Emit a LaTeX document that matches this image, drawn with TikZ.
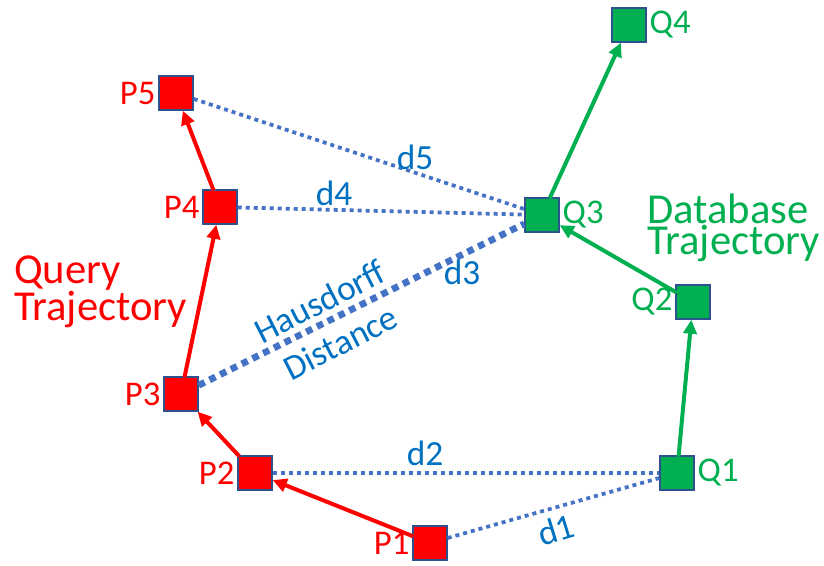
\documentclass[tikz,border=0pt]{standalone}
\usepackage{fontspec}
\setmainfont{Carlito}
\usetikzlibrary{arrows.meta,positioning}
\definecolor{qryred}{HTML}{FF0000}
\definecolor{dbgreen}{HTML}{00B050}
\definecolor{ptedge}{HTML}{2F528F}
\definecolor{distblue}{HTML}{4472C4}
\definecolor{labblue}{HTML}{0070C0}

\begin{document}
\begin{tikzpicture}[x=0.75pt, y=-0.75pt,
  font=\fontsize{26}{30}\selectfont,
  pt/.style={draw=ptedge, line width=1.1pt, minimum size=25.5pt, inner sep=0pt},
  qpt/.style={pt, fill=qryred},
  dpt/.style={pt, fill=dbgreen},
  qlab/.style={text=qryred, inner sep=2pt},
  dlab/.style={text=dbgreen, inner sep=2pt},
  qarr/.style={-{Triangle[length=10.5pt, width=10pt]}, line width=3pt, draw=qryred, shorten <=-1pt},
  darr/.style={qarr, draw=dbgreen},
  dist/.style={draw=distblue, line width=2.8pt, dash pattern=on 3pt off 3pt},
  hd/.style={dist, line width=5pt, dash pattern=on 5pt off 4pt},
  lab/.style={text=labblue, inner sep=1pt, font=\fontsize{26.5}{30}\selectfont},
  title/.style={font=\fontsize{32}{23}\selectfont, align=left, inner sep=0pt},
]
\useasboundingbox (0,0) rectangle (824,565);

% query trajectory
\node[qpt, label={[qlab]left:P1}] (P1) at (430,543) {};
\node[qpt, label={[qlab]left:P2}] (P2) at (255,473) {};
\node[qpt, label={[qlab]left:P3}] (P3) at (181,394) {};
\node[qpt, label={[qlab]left:P4}] (P4) at (220,207) {};
\node[qpt, label={[qlab]left:P5}] (P5) at (176,93)  {};

% database trajectory
\node[dpt, label={[dlab]right:Q1}] (Q1) at (677,473) {};
\node[dpt, label={[dlab]left:Q2}]  (Q2) at (693,302) {};
\node[dpt, label={[dlab]right:Q3}] (Q3) at (542,215) {};
\node[dpt, label={[dlab]right:Q4}] (Q4) at (629,25)  {};

\node[title, text=qryred, anchor=west]  (qt) at (14,292)  {Query\\Trajectory};
\node[title, text=dbgreen, anchor=west] (dt) at (647,228) {Database\\Trajectory};

% distances
\draw[dist] (P5) -- (Q3);
\draw[dist] (P4) -- (Q3);
\draw[hd]   (P3) -- (Q3);
\draw[dist] (P2) -- (Q1);
\draw[dist] (P1) -- (Q1);

\node[lab] (l5) at (415,157) {d5};
\node[lab] (l4) at (334,193) {d4};
\node[lab] (l3) at (462,272) {d3};
\node[lab] (l2) at (425,453) {d2};
\node[lab, rotate=17] (l1) at (556,530) {d1};
\node[lab, rotate=27, align=center, font=\fontsize{26.5}{34.5}\selectfont] (hdl) at (330,322)
  {Hausdorff\\Distance};

% movement
\draw[qarr] (P1) -- (P2);
\draw[qarr] (P2) -- (P3);
\draw[qarr] (P3) -- (P4);
\draw[qarr] (P4) -- (P5);
\draw[darr] (Q1) -- (Q2);
\draw[darr] (Q2) -- (Q3);
\draw[darr] (Q3) -- (Q4);
\end{tikzpicture}
\end{document}
